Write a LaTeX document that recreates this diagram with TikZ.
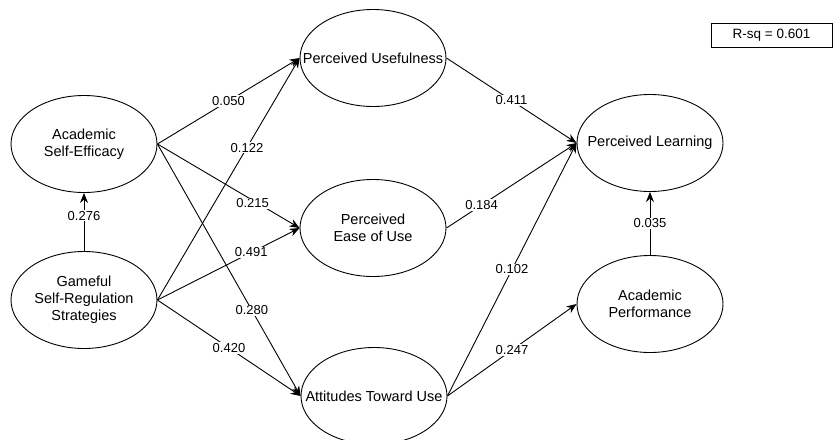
\documentclass[tikz,border=0pt]{standalone}
\usepackage{fontspec}
\setmainfont{Liberation Sans}
\usetikzlibrary{shapes.geometric,arrows.meta}
\begin{document}
\begin{tikzpicture}[x=1pt,y=-1pt,
  construct/.style={draw=black,line width=0.9pt,ellipse,minimum width=146pt,minimum height=97pt,inner xsep=-35pt,inner ysep=0pt,align=center,font=\fontsize{14.5}{17}\selectfont},
  path/.style={draw=black,line width=0.9pt,-{Stealth[length=10pt,width=8pt]}},
  coef/.style={fill=white,inner sep=1pt,font=\fontsize{13}{15}\selectfont},
  rsqbox/.style={draw=black,line width=0.9pt,minimum width=121pt,minimum height=24pt,inner sep=0pt,font=\fontsize{13.5}{15}\selectfont}]
\useasboundingbox (0,0) rectangle (834,439);
\node[construct] (pu) at (373,58) {Perceived Usefulness};
\node[construct] (ase) at (84,144) {Academic\\Self-Efficacy};
\node[construct] (peou) at (373,228) {Perceived\\Ease of Use};
\node[construct] (gsr) at (84,300) {Gameful\\Self-Regulation\\Strategies};
\node[construct] (atu) at (374,396) {Attitudes Toward Use};
\node[construct] (pl) at (650,143) {Perceived Learning};
\node[construct] (ap) at (650,304) {Academic\\Performance};
\node[rsqbox] (rsq) at (771.5,35) {R-sq = 0.601};

\draw[path] (ase.east) -- node[coef,pos=0.5] {0.050} (pu.west);
\draw[path] (gsr.east) -- node[coef,pos=0.63] {0.122} (pu.west);
\draw[path] (ase.east) -- node[coef,pos=0.67,yshift=-3pt] {0.215} (peou.west);
\draw[path] (ase.east) -- node[coef,pos=0.66] {0.280} (atu.west);
\draw[path] (gsr.east) -- node[coef,pos=0.66] {0.491} (peou.west);
\draw[path] (gsr.east) -- node[coef,pos=0.5] {0.420} (atu.west);
\draw[path] (gsr.north) -- node[coef,pos=0.61] {0.276} (ase.south);
\draw[path] (pu.east) -- node[coef,pos=0.5] {0.411} (pl.west);
\draw[path] (peou.east) -- node[coef,pos=0.27] {0.184} (pl.west);
\draw[path] (atu.east) -- node[coef,pos=0.5] {0.102} (pl.west);
\draw[path] (atu.east) -- node[coef,pos=0.5] {0.247} (ap.west);
\draw[path] (ap.north) -- node[coef,pos=0.5] {0.035} (pl.south);
\end{tikzpicture}
\end{document}
